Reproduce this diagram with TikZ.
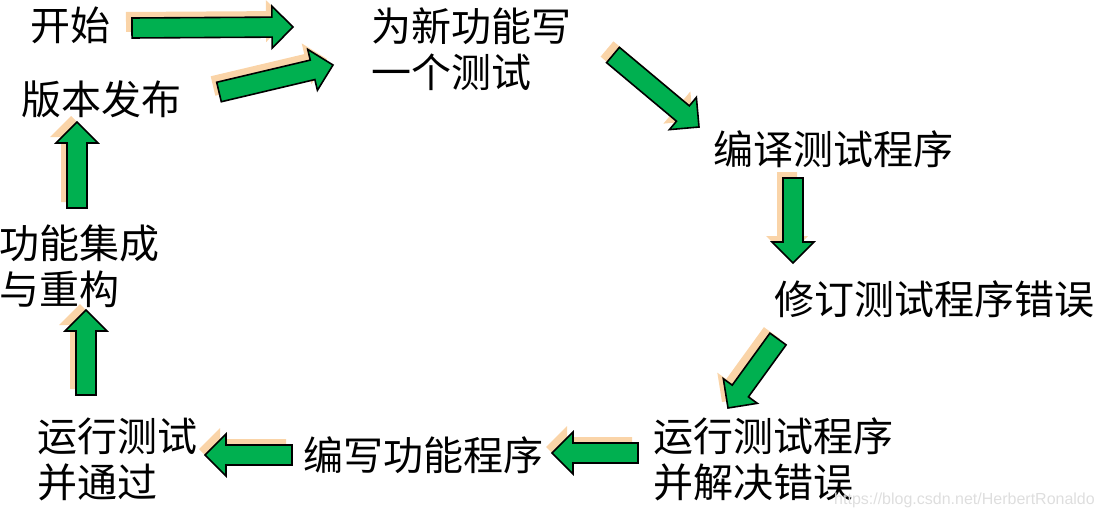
\documentclass[tikz,border=0pt]{standalone}
\usepackage{fontspec}
\setmainfont{Noto Sans CJK SC}
\newfontfamily\markfont{Liberation Sans}
\usetikzlibrary{calc}

\definecolor{arrowgreen}{RGB}{0,176,80}
\definecolor{shadowtan}{RGB}{250,212,168}

% outline of a block arrow: #1 tail centre, #2 tip, #3 centre of head base
\newcommand{\arrowpath}[3]{($(#1)!10pt!90:(#2)$) -- ($(#3)!10pt!90:(#2)$) -- ($(#3)!21pt!90:(#2)$) -- (#2) -- ($(#3)!21pt!-90:(#2)$) -- ($(#3)!10pt!-90:(#2)$) -- ($(#1)!10pt!-90:(#2)$) -- cycle}
\newcommand{\fatarrow}[2]{%
  \coordinate (#1h) at ($(#2)!21pt!(#1)$);
  \coordinate (#1s) at ($(#1)+(-6pt,6pt)$);
  \coordinate (#2s) at ($(#2)+(-6pt,6pt)$);
  \coordinate (#1hs) at ($(#1h)+(-6pt,6pt)$);
  \fill [shadowtan] \arrowpath{#1s}{#2s}{#1hs};
  \filldraw [greenarrow] \arrowpath{#1}{#2}{#1h};
}

\begin{document}
\begin{tikzpicture}[x=1pt, y=-1pt]
    \tikzstyle{stagetext} = [anchor=west, inner sep=0pt, align=left, font=\fontsize{40pt}{46pt}\selectfont]
    \tikzstyle{greenarrow} = [fill=arrowgreen, draw=black, line width=1.6pt, line join=miter]
    \useasboundingbox (0,0) rectangle (1102,519);

    % Stages
    \node [stagetext] (start) at (30,25) {开始};
    \node [stagetext] (release) at (21,99) {版本发布};
    \node [stagetext] (writetest) at (371,49) {为新功能写\\一个测试};
    \node [stagetext] (compile) at (713,149) {编译测试程序};
    \node [stagetext] (fixtest) at (774,299) {修订测试程序错误};
    \node [stagetext] (runfix) at (653,459) {运行测试程序\\并解决错误};
    \node [stagetext] (writecode) at (303,455) {编写功能程序};
    \node [stagetext] (runpass) at (37,459) {运行测试\\并通过};
    \node [stagetext] (refactor) at (-1,266) {功能集成\\与重构};

    % Arrow ends
    \coordinate (a1) at (132,28);  \coordinate (b1) at (293,27);
    \coordinate (a2) at (219,92);  \coordinate (b2) at (333,65);
    \coordinate (a3) at (613,55);  \coordinate (b3) at (699,127);
    \coordinate (a4) at (793,178); \coordinate (b4) at (793,263);
    \coordinate (a5) at (778,339); \coordinate (b5) at (728,408);
    \coordinate (a6) at (638,453); \coordinate (b6) at (552,453);
    \coordinate (a7) at (292,455); \coordinate (b7) at (205,455);
    \coordinate (a8) at (86,395);  \coordinate (b8) at (86,310);
    \coordinate (a9) at (77,208);  \coordinate (b9) at (77,122);

    % Connections
    \foreach \i in {1,...,9} {
        \fatarrow{a\i}{b\i}
    }

    % Watermark
    \node [anchor=west, inner sep=0pt, text=black!13, font=\markfont\fontsize{16pt}{18pt}\selectfont] (mark) at (834,500) {https://blog.csdn.net/HerbertRonaldo};
\end{tikzpicture}
\end{document}
